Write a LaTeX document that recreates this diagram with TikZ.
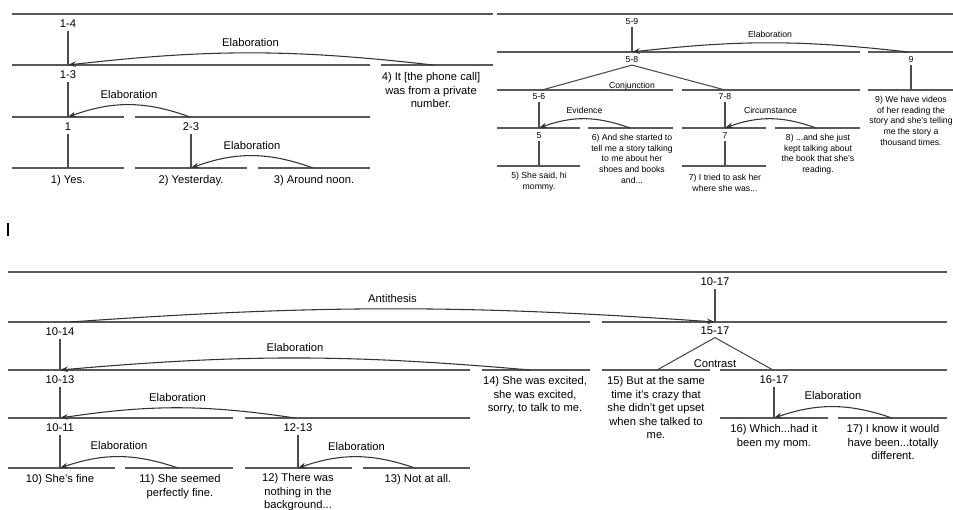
\documentclass[tikz,border=0pt]{standalone}
\usepackage{fontspec}
\setmainfont{Liberation Sans}
\usetikzlibrary{arrows.meta}
\tikzset{
	span/.style={draw=black!65, line width=0.9pt},
	stem/.style={draw=black!70, line width=0.8pt},
	rel/.style={draw=black!80, line width=0.8pt, arrows = {-Stealth[length=6pt, width=4.2pt, fill=black]}},
	lbl/.style={inner sep=0pt, outer sep=2pt, font=\fontsize{8.4}{10.1}\selectfont},
	edu/.style={lbl, align=center, anchor=north},
	rlbl/.style={lbl, midway, above=3pt},
	slbl/.style={inner sep=0pt, outer sep=1.5pt, font=\fontsize{6.5}{8.1}\selectfont},
	sedu/.style={slbl, align=center, anchor=north},
	srlbl/.style={slbl, midway, above=2.5pt},
}

\begin{document}
\begin{tikzpicture}[x=0.75pt, y=-0.75pt]
	\useasboundingbox (0,0) rectangle (953,510);

	% top left: 1-4
	\draw[span] (12,14) -- (493,14);
	\draw[span] (12,65) -- (370,65);
	\draw[span] (381,65) -- (493,65);
	\draw[span] (12,117) -- (124,117);
	\draw[span] (135,117) -- (370,117);
	\draw[span] (12,168) -- (124,168);
	\draw[span] (135,168) -- (247,168);
	\draw[span] (258,168) -- (370,168);

	\coordinate (j13) at (68,65);
	\coordinate (j4) at (433,65);
	\coordinate (j1) at (68,117);
	\coordinate (j23) at (190,117);
	\coordinate (k1) at (68,168);
	\coordinate (k2) at (191,168);
	\coordinate (k3) at (313,168);

	\node[lbl] (l14) at (68,24) {1-4};
	\node[lbl] (l13) at (68,75) {1-3};
	\node[lbl] (l1) at (68,127) {1};
	\node[lbl] (l23) at (191,127) {2-3};
	\node[edu] (e1) at (68,173) {1) Yes.};
	\node[edu] (e2) at (191,173) {2) Yesterday.};
	\node[edu] (e3) at (314,173) {3) Around noon.};
	\node[edu] (e4) at (431,70) {4) It [the phone call]\\was from a private\\number.};

	\draw[stem] (l14) -- (j13);
	\draw[stem] (l13) -- (j1);
	\draw[stem] (l1) -- (k1);
	\draw[stem] (l23) -- (k2);

	\draw[rel] (j4) to[bend right=6.5] node[rlbl] (r4) {Elaboration} (j13);
	\draw[rel] (j23) to[bend right=20] node[rlbl] (r23) {Elaboration} (j1);
	\draw[rel] (k3) to[bend right=20] node[rlbl] (r3) {Elaboration} (k2);

	% top right: 5-9
	\draw[span] (497,14) -- (953,14);
	\draw[span] (497,52) -- (860,52);
	\draw[span] (868,52) -- (953,52);
	\draw[span] (497,90) -- (673,90);
	\draw[span] (682,90) -- (860,90);
	\draw[span] (868,90) -- (953,90);
	\draw[span] (497,128) -- (580,128);
	\draw[span] (588,128) -- (673,128);
	\draw[span] (682,128) -- (766,128);
	\draw[span] (775,128) -- (860,128);
	\draw[span] (497,166) -- (580,166);
	\draw[span] (682,166) -- (766,166);

	\coordinate (j58) at (632,52);
	\coordinate (j9) at (908,52);
	\coordinate (c9) at (911,90);
	\coordinate (c56) at (542,90);
	\coordinate (c78) at (725,90);
	\coordinate (j5) at (539,128);
	\coordinate (j6) at (630,128);
	\coordinate (j7) at (725,128);
	\coordinate (j8) at (816,128);
	\coordinate (k5) at (539,166);
	\coordinate (k7) at (725,166);

	\node[slbl] (l59) at (632,22) {5-9};
	\node[slbl] (l58) at (632,60) {5-8};
	\node[slbl] (l9) at (911,60) {9};
	\node[slbl] (l56) at (539,97) {5-6};
	\node[slbl] (l78) at (725,97) {7-8};
	\node[slbl] (l5) at (539,136) {5};
	\node[slbl] (l7) at (725,136) {7};
	\node[sedu] (e9) at (911,94) {9) We have videos\\of her reading the\\story and she's telling\\me the story a\\thousand times.};
	\node[sedu] (e6) at (632,132) {6) And she started to\\tell me a story talking\\to me about her\\shoes and books\\and...};
	\node[sedu] (e8) at (818,132) {8) ...and she just\\kept talking about\\the book that she's\\reading.};
	\node[sedu] (e5) at (539,170) {5) She said, hi\\mommy.};
	\node[sedu] (e7) at (725,172) {7) I tried to ask her\\where she was...};

	\draw[stem] (l59) -- (j58);
	\draw[stem] (l9) -- (c9);
	\draw[stem] (l56) -- (j5);
	\draw[stem] (l78) -- (j7);
	\draw[stem] (l5) -- (k5);
	\draw[stem] (l7) -- (k7);
	\draw[stem] (c56) -- (l58.south) -- (c78);
	\node[slbl] (r58) at (632,86) {Conjunction};

	\draw[rel] (j9) to[bend right=6.5] node[srlbl] (r9) {Elaboration} (j58);
	\draw[rel] (j6) to[bend right=20] node[srlbl] (r6) {Evidence} (j5);
	\draw[rel] (j8) to[bend right=20] node[srlbl] (r8) {Circumstance} (j7);

	% stray mark
	\draw[line width=1.1pt] (8,223) -- (8,236);

	% bottom: 10-17
	\draw[span] (8,272) -- (947,272);
	\draw[span] (8,322) -- (590,322);
	\draw[span] (602,322) -- (947,322);
	\draw[span] (8,370) -- (470,370);
	\draw[span] (482,370) -- (590,370);
	\draw[span] (602,370) -- (710,370);
	\draw[span] (720,370) -- (947,370);
	\draw[span] (8,418) -- (233,418);
	\draw[span] (245,418) -- (470,418);
	\draw[span] (720,418) -- (828,418);
	\draw[span] (838,418) -- (947,418);
	\draw[span] (8,468) -- (115,468);
	\draw[span] (125,468) -- (233,468);
	\draw[span] (245,468) -- (352,468);
	\draw[span] (363,468) -- (470,468);

	\coordinate (j1014) at (70,322);
	\coordinate (j1517) at (715,322);
	\coordinate (j1013) at (60,370);
	\coordinate (j14) at (530,370);
	\coordinate (c15) at (657,370);
	\coordinate (c1617) at (773,370);
	\coordinate (j1011) at (60,418);
	\coordinate (j1213) at (295,418);
	\coordinate (j16) at (774,418);
	\coordinate (j17) at (892,418);
	\coordinate (k10) at (60,468);
	\coordinate (k11) at (178,468);
	\coordinate (k12) at (298,468);
	\coordinate (k13) at (415,468);

	\node[lbl] (l1017) at (715,282) {10-17};
	\node[lbl] (l1014) at (60,332) {10-14};
	\node[lbl] (l1517) at (715,331) {15-17};
	\node[lbl] (l1013) at (60,380) {10-13};
	\node[lbl] (l1617) at (774,380) {16-17};
	\node[lbl] (l1011) at (60,428) {10-11};
	\node[lbl] (l1213) at (298,428) {12-13};
	\node[edu] (e10) at (60,472) {10) She's fine};
	\node[edu] (e11) at (180,472) {11) She seemed\\perfectly fine.};
	\node[edu] (e12) at (298,471) {12) There was\\nothing in the\\background...};
	\node[edu] (e13) at (418,472) {13) Not at all.};
	\node[edu] (e14) at (535,374) {14) She was excited,\\she was excited,\\sorry, to talk to me.};
	\node[edu] (e15) at (656,374) {15) But at the same\\time it's crazy that\\she didn't get upset\\when she talked to\\me.};
	\node[edu] (e16) at (774,422) {16) Which...had it\\been my mom.};
	\node[edu] (e17) at (893,422) {17) I know it would\\have been...totally\\different.};

	\draw[stem] (l1017) -- (j1517);
	\draw[stem] (l1014) -- (j1013);
	\draw[stem] (l1013) -- (j1011);
	\draw[stem] (l1617) -- (j16);
	\draw[stem] (l1011) -- (k10);
	\draw[stem] (l1213) -- (k12);
	\draw[stem] (c15) -- (l1517.south) -- (c1617);
	\node[lbl] (r1517) at (715,364) {Contrast};

	\draw[rel] (j1014) to[bend left=4] node[rlbl] (r1014) {Antithesis} (j1517);
	\draw[rel] (j14) to[bend right=5] node[rlbl] (r14) {Elaboration} (j1013);
	\draw[rel] (j1213) to[bend right=8.5] node[rlbl] (r1213) {Elaboration} (j1011);
	\draw[rel] (k11) to[bend right=19] node[rlbl] (r11) {Elaboration} (k10);
	\draw[rel] (k13) to[bend right=19] node[rlbl] (r13) {Elaboration} (k12);
	\draw[rel] (j17) to[bend right=19] node[rlbl] (r17) {Elaboration} (j16);
\end{tikzpicture}
\end{document}
